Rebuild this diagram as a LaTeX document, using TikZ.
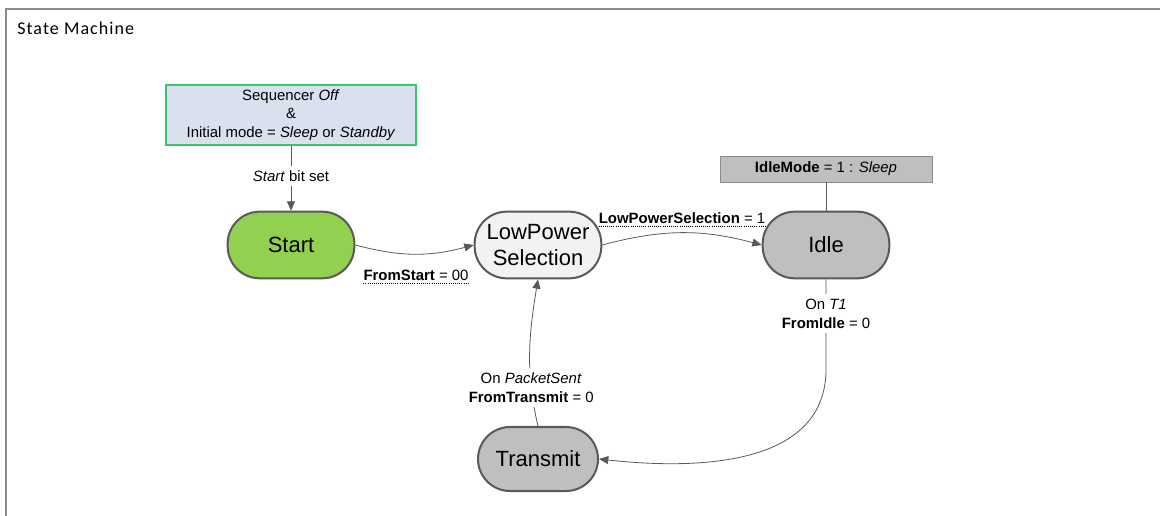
\documentclass[tikz,border=0pt]{standalone}
\usepackage{fontspec}
\setmainfont{Liberation Sans}
\newfontfamily\titlefont[LetterSpace=6]{Carlito}
\usetikzlibrary{arrows.meta}

\definecolor{stategreen}{HTML}{92D050}
\definecolor{statelight}{HTML}{F2F2F2}
\definecolor{stategray}{HTML}{BFBFBF}
\definecolor{edgegray}{HTML}{595959}
\definecolor{framegray}{HTML}{8C8C8C}
\definecolor{seqfill}{HTML}{DAE0EE}
\definecolor{seqborder}{HTML}{3CC36E}

\tikzset{
  state/.style={draw=edgegray, line width=1.5pt, rounded corners=24pt,
    minimum width=95pt, minimum height=50pt, align=center, inner sep=0pt,
    font=\fontsize{16.5}{20}\selectfont},
  cond/.style={font=\fontsize{11.2}{14}\selectfont, align=center},
  trans/.style={draw=edgegray, line width=0.6pt, ->},
}

\begin{document}
\begin{tikzpicture}[x=0.75pt, y=0.75pt, >={Triangle[length=7pt,width=6pt]}]
    \useasboundingbox (0,0) rectangle (1160,-516);
    % frame and title
    \draw[framegray, line width=1.5pt] (1160,-9) -- (6,-9) -- (6,-516);
    \node[anchor=west, inner sep=0pt, font=\titlefont\fontsize{13.5}{15}\selectfont] (title) at (17,-28) {State Machine};
    % condition boxes
    \node[cond, draw=seqborder, fill=seqfill, line width=1pt, minimum width=187.5pt, minimum height=45pt] (seq) at (291,-115)
        {Sequencer \textit{Off}\\\&\\Initial mode = \textit{Sleep} or \textit{Standby}};
    \node[cond, draw=framegray, fill=stategray, minimum width=159pt, minimum height=19.5pt, inner sep=1pt] (idlemode) at (826,-169)
        {\textbf{IdleMode} = 1 : \textit{Sleep}};
    % states
    \node[state, fill=stategreen] (start) at (291,-245) {Start};
    \node[state, fill=statelight] (lps) at (538,-245) {LowPower\\Selection};
    \node[state, fill=stategray] (idle) at (826,-245) {Idle};
    \node[state, fill=stategray, minimum width=90pt, minimum height=48pt] (tx) at (538,-459) {Transmit};
    % transitions
    \draw[trans] (seq.south) -- node[cond, fill=white, pos=0.47] {\textit{Start} bit set} (start.north);
    \draw[trans] (start.east) to[out=-15, in=195] (lps.west);
    \draw[trans] (lps.east) to[out=15, in=165] (idle.west);
    \draw[edgegray, line width=0.6pt] (idlemode.south) -- (idle.north);
    \draw[trans] (idle.south) -- node[cond, fill=white, pos=0.38] {On \textit{T1}\\\textbf{FromIdle} = 0} ++(0,-90)
        .. controls +(0,-100) and +(90,-10) .. (tx.east);
    \draw[trans] (tx.north) .. controls +(-12,50) and +(-10,-60) ..
        node[cond, fill=white, pos=0.27] {On \textit{PacketSent}\\\textbf{FromTransmit} = 0} (lps.south);
    % guard labels
    \node[cond, anchor=base, inner xsep=0pt, inner ysep=1.5pt] (fromstart) at (416,-281) {\textbf{FromStart} = 00};
    \draw[densely dotted, line width=0.6pt] (fromstart.south west) -- (fromstart.south east);
    \node[cond, anchor=base, inner xsep=0pt, inner ysep=1.5pt] (lpsel) at (682,-224) {\textbf{LowPowerSelection} = 1};
    \draw[densely dotted, line width=0.6pt] (lpsel.south west) -- (lpsel.south east);
\end{tikzpicture}
\end{document}
